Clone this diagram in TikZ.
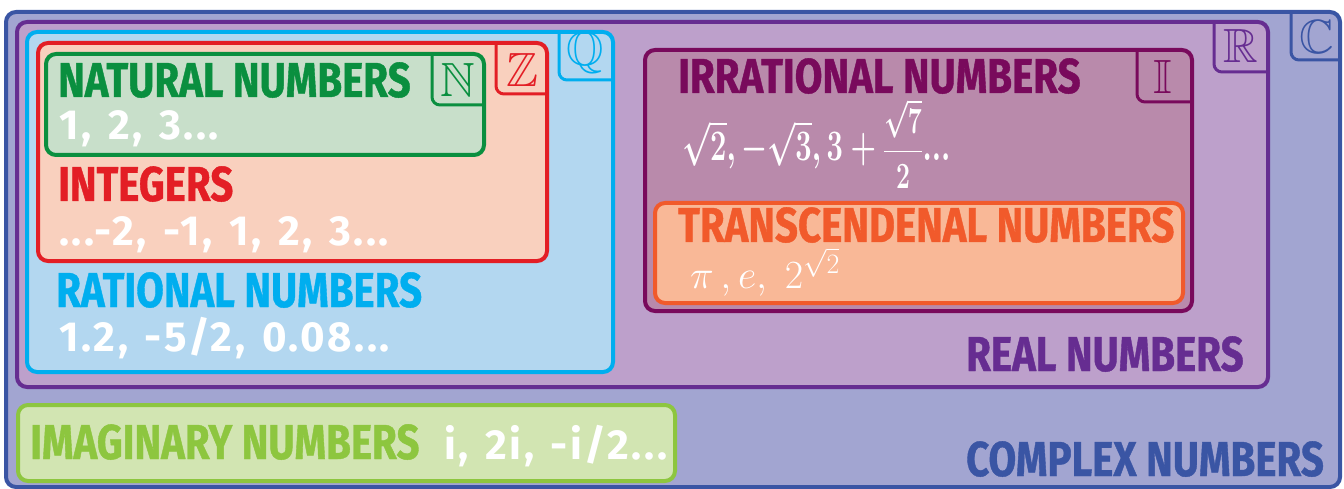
\documentclass[tikz,border=0pt]{standalone}
\usepackage{fix-cm}
\DeclareFontFamily{U}{msb}{}
\DeclareFontShape{U}{msb}{m}{n}{<->msbm10}{}
\usepackage{amsmath,amssymb}
\usepackage{fontspec}
\newfontfamily\headfont[FakeStretch=0.82,BoldFeatures={FakeBold=0.8}]{Fira Sans}
\newfontfamily\numfont[LetterSpace=6,WordSpace=1.35]{Fira Sans}
\definecolor{cblue}{HTML}{3A55A4}\definecolor{cblueF}{HTML}{A2A5D1}
\definecolor{rpurple}{HTML}{662D91}\definecolor{rpurpleF}{HTML}{BDA0CB}
\definecolor{qcyan}{HTML}{00AEEF}\definecolor{qcyanF}{HTML}{B3D7F0}
\definecolor{zred}{HTML}{E31E25}\definecolor{zredF}{HTML}{F9D0BE}
\definecolor{ngreen}{HTML}{0A8F3F}\definecolor{ngreenF}{HTML}{C8DFCA}
\definecolor{iplum}{HTML}{790A5C}\definecolor{iplumF}{HTML}{B98AAB}
\definecolor{torange}{HTML}{F15A2B}\definecolor{torangeF}{HTML}{F9B897}
\definecolor{imgreen}{HTML}{8DC63F}\definecolor{imgreenF}{HTML}{D2E5B2}

\begin{document}
\begin{tikzpicture}[x=1pt,y=-1pt,
  set/.style={line width=4pt,rounded corners=10pt},
  tab/.style={line width=3pt,rounded corners=8pt},
  head/.style={anchor=base west,inner sep=0pt,font=\headfont\bfseries\fontsize{49}{52}\selectfont},
  nums/.style={anchor=base west,inner sep=0pt,text=white,font=\numfont\bfseries\fontsize{42}{46}\selectfont},
  sym/.style={inner sep=0pt,font=\fontsize{48}{50}\selectfont}]
\useasboundingbox (0,0) rectangle (1344,489);
% complex and real
\draw[set,draw=cblue,fill=cblueF] (6,12) rectangle (1340,487);\draw[tab,cblue] (1291,12) |- (1340,60);
\node[sym,text=cblue] (cS) at (1317,37) {$\mathbb{C}$};
\draw[set,draw=rpurple,fill=rpurpleF] (17,22) rectangle (1268,387);\draw[tab,rpurple] (1214,22) |- (1268,72);
\node[sym,text=rpurple] (rS) at (1241,46) {$\mathbb{R}$};
% rational, integers, natural
\draw[set,draw=qcyan,fill=qcyanF] (27,32) rectangle (613,372);\draw[tab,qcyan] (559,32) |- (613,80);
\node[sym,text=qcyan] (qS) at (585,53) {$\mathbb{Q}$};
\draw[set,draw=zred,fill=zredF] (38,43) rectangle (547,261);\draw[tab,zred] (496,43) |- (547,94);
\node[sym,text=zred] (zS) at (522,70) {$\mathbb{Z}$};
\draw[set,draw=ngreen,fill=ngreenF] (46,54) rectangle (484,155);\draw[tab,ngreen] (432,54) |- (484,105);
\node[sym,text=ngreen] (nS) at (458,80) {$\mathbb{N}$};
% irrational, transcendental
\draw[set,draw=iplum,fill=iplumF] (645,50) rectangle (1192,311);\draw[tab,iplum] (1137,50) |- (1192,102);
\node[sym,text=iplum] (iS) at (1163,77) {$\mathbb{I}$};
\draw[set,draw=torange,fill=torangeF] (655,203) rectangle (1183,303);
% imaginary
\draw[set,draw=imgreen,fill=imgreenF] (18,405) rectangle (675,481);

\node[head,text=ngreen] (natT) at (58,97) {NATURAL NUMBERS};
\node[nums] (natV) at (59,140) {1, 2, 3...};
\node[head,text=zred] (intT) at (58,201) {INTEGERS};
\node[nums] (intV) at (59,245) {...-2, -1, 1, 2, 3...};
\node[head,text=qcyan] (ratT) at (56,307) {RATIONAL NUMBERS};
\node[nums] (ratV) at (59,351) {1.2, -5/2, 0.08...};
\node[head,text=iplum] (irrT) at (678,93) {IRRATIONAL NUMBERS};
\node[anchor=base west,inner sep=0pt,text=white,font=\fontsize{43.5}{48}\selectfont\boldmath] (irrV) at (682,161) {\scalebox{0.67}[1]{$\sqrt{2}, -\sqrt{3}, 3+\scalebox{0.85}{$\dfrac{\sqrt{7}}{2}$}...$}};
\node[head,text=torange] (trT) at (678,242) {TRANSCENDENAL NUMBERS};
\node[anchor=base west,inner sep=0pt,text=white,font=\fontsize{40}{44}\selectfont] (trV) at (690,288) {$\pi\,, e,\; 2^{\sqrt{2}}$};
\node[head,text=rpurple] (realT) at (966,371) {REAL NUMBERS};
\node[head,text=imgreen] (imT) at (30,459) {IMAGINARY NUMBERS};
\node[nums] (imV) at (444,459) {i, 2i, -i/2...};
\node[head,text=cblue] (cT) at (966,476) {COMPLEX NUMBERS};
\end{tikzpicture}
\end{document}
